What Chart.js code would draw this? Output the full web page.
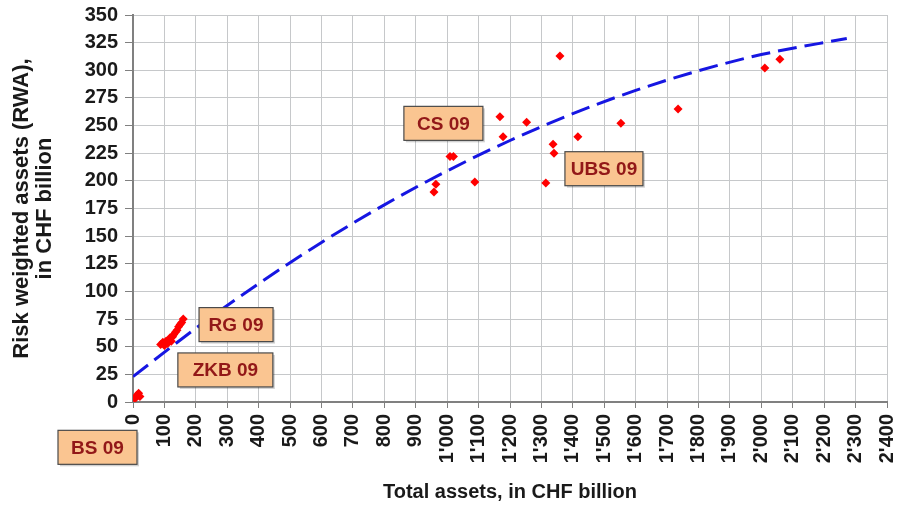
<!DOCTYPE html>
<html>
<head>
<meta charset="utf-8">
<script src="https://cdn.jsdelivr.net/npm/chart.js@4/dist/chart.umd.min.js"></script>
<style>
  body { margin: 0; background: #fff; }
  #wrap { width: 902px; height: 507px; }
</style>
</head>
<body>
<div id="wrap"><canvas id="myChart" width="902" height="507"></canvas></div>
<script>
// banks: total assets (x) vs risk weighted assets (y), CHF billion
const assetsX = [6, 12, 18, 22,
    88, 95, 100, 105, 110, 115, 118, 122, 126, 130, 135, 140, 145, 150, 155, 160,
    958, 964, 1009, 1020, 1088, 1168, 1178, 1253, 1314, 1337, 1340, 1359, 1416, 1553, 1735, 2011, 2059];
const rwaY = [3, 6, 8, 5,
    52, 54, 51, 55, 53, 56, 58, 55, 59, 61, 63, 65, 68, 70, 72, 75,
    190, 197, 222, 222, 199, 258, 240, 253, 198, 233, 225, 313, 240, 252, 265, 302, 310];

// fitted trend (dashed line)
const trendX = [0, 200, 400, 600, 800, 1000, 1200, 1400, 1600, 1800, 2000, 2272];
const trendY = [23, 66.7, 107.1, 144.3, 178.3, 209, 236.5, 260.8, 281.8, 299.6, 314.2, 328.8];

// bank labels and where their boxes sit (data coords)
const bankLabels = ['CS 09', 'UBS 09', 'RG 09', 'ZKB 09', 'BS 09'];
const labelX = [988, 1499, 328, 294, -113];
const labelY = [252, 211, 70, 29, -41];
const labelW = [79, 78, 74, 95, 79];

const points = assetsX.map((x, i) => ({ x: x, y: rwaY[i] }));
const trend = trendX.map((x, i) => ({ x: x, y: trendY[i] }));

const FONT = '"Liberation Sans", Arial, sans-serif';

function fmtThousands(v) {
    return String(v).replace(/\B(?=(\d{3})+(?!\d))/g, "'");
}

const labelBoxes = {
    id: 'labelBoxes',
    afterDraw(chart) {
        const ctx = chart.ctx;
        const xs = chart.scales.x, ys = chart.scales.y;
        ctx.save();
        ctx.font = 'bold 19px ' + FONT;
        ctx.textAlign = 'center';
        ctx.textBaseline = 'middle';
        bankLabels.forEach((txt, i) => {
            const cx = xs.getPixelForValue(labelX[i]);
            const cy = ys.getPixelForValue(labelY[i]);
            const w = labelW[i], h = 34;
            ctx.fillStyle = 'rgba(0,0,0,0.18)';
            ctx.fillRect(cx - w / 2 + 2, cy - h / 2 + 2, w, h);
            ctx.fillStyle = '#fac591';
            ctx.fillRect(cx - w / 2, cy - h / 2, w, h);
            ctx.strokeStyle = '#4a4a4a';
            ctx.lineWidth = 1.2;
            ctx.strokeRect(cx - w / 2, cy - h / 2, w, h);
            ctx.fillStyle = '#921818';
            ctx.fillText(txt, cx, cy + 1);
        });
        ctx.restore();
    }
};

const ctx = document.getElementById('myChart').getContext('2d');
new Chart(ctx, {
    type: 'scatter',
    data: {
        datasets: [
            {
                label: 'Banks',
                data: points,
                pointStyle: 'rectRot',
                pointRadius: 4.5,
                pointBackgroundColor: '#ff0000',
                pointBorderWidth: 0,
                order: 0
            },
            {
                label: 'Trend',
                data: trend,
                showLine: true,
                pointRadius: 0,
                borderColor: '#1616e2',
                borderWidth: 3,
                borderDash: [19, 8],
                cubicInterpolationMode: 'monotone',
                fill: false,
                order: 1
            }
        ]
    },
    options: {
        responsive: false,
        animation: false,
        layout: { padding: { left: 0, right: 15, top: 15, bottom: 0 } },
        plugins: {
            legend: { display: false },
            tooltip: { enabled: false }
        },
        scales: {
            x: {
                type: 'linear',
                min: 0,
                max: 2400,
                afterFit(scale) {
                    scale.height = 105;
                    scale.paddingLeft = 0;
                    scale.paddingRight = 0;
                },
                grid: { color: '#c6c8ca', tickColor: '#808080', tickLength: 6 },
                border: { color: '#808080', width: 2 },
                ticks: {
                    stepSize: 100,
                    autoSkip: false,
                    minRotation: 90,
                    maxRotation: 90,
                    padding: 6,
                    color: '#1a1a1a',
                    font: { family: FONT, size: 20, weight: 'bold' },
                    callback: v => fmtThousands(v)
                },
                title: {
                    display: true,
                    text: 'Total assets, in CHF billion',
                    color: '#1a1a1a',
                    padding: { top: 0, bottom: 4 },
                    font: { family: FONT, size: 20, weight: 'bold', lineHeight: 1.1 }
                }
            },
            y: {
                min: 0,
                max: 350,
                afterFit(scale) {
                    scale.width = 133;
                    scale.paddingTop = 0;
                    scale.paddingBottom = 0;
                },
                grid: { color: '#c6c8ca', tickColor: '#808080', tickLength: 8 },
                border: { color: '#808080', width: 2 },
                ticks: {
                    stepSize: 25,
                    padding: 7,
                    color: '#1a1a1a',
                    font: { family: FONT, size: 20, weight: 'bold' }
                },
                title: {
                    display: true,
                    text: ['Risk weighted assets (RWA),', 'in CHF billion'],
                    color: '#1a1a1a',
                    padding: { top: 10, bottom: 0 },
                    font: { family: FONT, size: 22, weight: 'bold', lineHeight: 1.05 }
                }
            }
        }
    },
    plugins: [labelBoxes]
});
</script>
</body>
</html>
